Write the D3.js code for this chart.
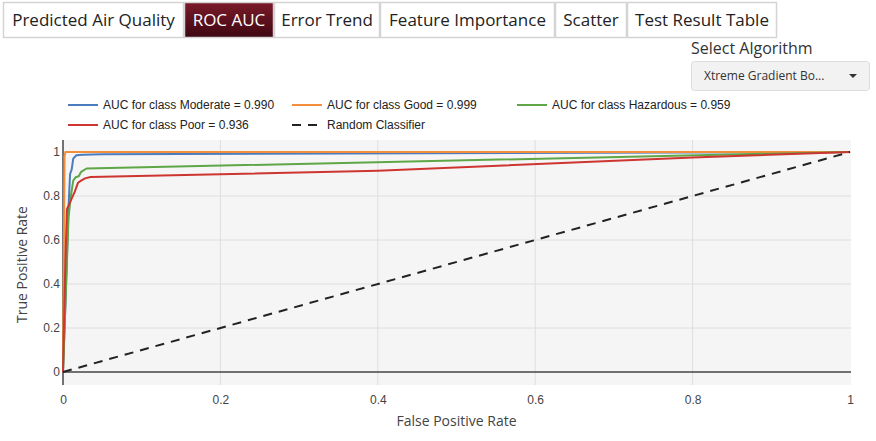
<!DOCTYPE html>
<html>
<head>
  <title>ROC AUC</title>
  <script src="https://d3js.org/d3.v7.min.js"></script>
  <style>
    body { margin: 0; background: #fff; }
    .tick text { font-family: Arial, "Liberation Sans", sans-serif; font-size: 12px; fill: #444; }
    .legend text { font-family: Arial, "Liberation Sans", sans-serif; font-size: 12px; fill: #222; }
    .tab text { font-family: "Open Sans", sans-serif; font-size: 17px; }
  </style>
</head>
<body>
<svg width="876" height="441"></svg>
<script>
  // tabs and dropdown
  const tabs = ["Predicted Air Quality", "ROC AUC", "Error Trend", "Feature Importance", "Scatter", "Test Result Table"];
  const tabWidths = [181, 90, 106, 175, 72, 150];
  const activeTab = "ROC AUC";
  const algorithm = "Xtreme Gradient Bo...";

  // ROC curves (FPR, TPR)
  const classes = ["Moderate", "Good", "Hazardous", "Poor"];
  const aucs = [0.990, 0.999, 0.959, 0.936];
  const colors = ["#4a7cbf", "#f28e3c", "#5ea646", "#cc3530"];
  const fpr = {
    Moderate:  [0, 0.003, 0.007, 0.009, 0.011, 0.013, 0.017, 0.025, 0.05, 1],
    Good:      [0, 0.001, 0.002, 0.003, 1],
    Hazardous: [0, 0.004, 0.007, 0.010, 0.013, 0.016, 0.020, 0.023, 0.030, 1],
    Poor:      [0, 0.003, 0.005, 0.010, 0.015, 0.019, 0.023, 0.028, 0.035, 0.4, 0.8, 1]
  };
  const tpr = {
    Moderate:  [0, 0.30, 0.75, 0.90, 0.92, 0.97, 0.985, 0.988, 0.99, 1],
    Good:      [0, 0.50, 0.98, 1.00, 1],
    Hazardous: [0, 0.40, 0.70, 0.80, 0.87, 0.885, 0.89, 0.91, 0.925, 1],
    Poor:      [0, 0.50, 0.74, 0.78, 0.82, 0.86, 0.87, 0.88, 0.886, 0.915, 0.975, 1]
  };
  const xTicks = [0, 0.2, 0.4, 0.6, 0.8, 1];
  const yTicks = [0, 0.2, 0.4, 0.6, 0.8, 1];

  const svg = d3.select("svg");

  // ---- tab bar ----
  let tx = 3;
  tabs.forEach((t, i) => {
    const g = svg.append("g").attr("class", "tab");
    const active = t === activeTab;
    g.append("rect")
      .attr("x", tx + 0.5).attr("y", 2.5)
      .attr("width", tabWidths[i] - 1).attr("height", 35)
      .attr("fill", active ? "url(#activeGrad)" : "#fff")
      .attr("stroke", "#d4d4d4").attr("stroke-width", 1.5);
    g.append("text")
      .attr("x", tx + tabWidths[i] / 2).attr("y", 26)
      .attr("text-anchor", "middle")
      .attr("fill", active ? "#fff" : "#222")
      .text(t)
      .each(function() {
        const w = this.getComputedTextLength();
        if (w > tabWidths[i] - 14) {
          d3.select(this).attr("textLength", tabWidths[i] - 14).attr("lengthAdjust", "spacingAndGlyphs");
        }
      });
    tx += tabWidths[i];
  });
  const defs = svg.append("defs");
  const grad = defs.append("linearGradient").attr("id", "activeGrad")
    .attr("x1", 0).attr("y1", 0).attr("x2", 0).attr("y2", 1);
  grad.append("stop").attr("offset", "0%").attr("stop-color", "#7b1a2a");
  grad.append("stop").attr("offset", "100%").attr("stop-color", "#3e0812");

  // ---- algorithm select ----
  svg.append("text")
    .attr("x", 691).attr("y", 54)
    .style("font-family", "'Open Sans', sans-serif").style("font-size", "16px")
    .attr("fill", "#333")
    .text("Select Algorithm");
  svg.append("rect")
    .attr("x", 691.5).attr("y", 61.5).attr("width", 178).attr("height", 29).attr("rx", 3)
    .attr("fill", "#f2f2f2").attr("stroke", "#dcdcdc");
  svg.append("text")
    .attr("x", 704).attr("y", 80)
    .style("font-family", "'Open Sans', sans-serif").style("font-size", "12px")
    .attr("fill", "#333")
    .text(algorithm);
  svg.append("path").attr("d", "M849,74 L857,74 L853,78 Z").attr("fill", "#333");

  // ---- plot ----
  const plot = {left: 63, right: 851, top: 140, bottom: 385};
  const x = d3.scaleLinear().domain([0, 1]).range([63, 850]);
  const y = d3.scaleLinear().domain([0, 1]).range([372, 152]);

  svg.append("rect")
    .attr("x", plot.left).attr("y", plot.top)
    .attr("width", plot.right - plot.left).attr("height", plot.bottom - plot.top)
    .attr("fill", "#f5f5f5");

  // grid
  svg.append("g").selectAll("line").data(yTicks.filter(d => d > 0)).join("line")
    .attr("x1", plot.left).attr("x2", plot.right)
    .attr("y1", d => y(d)).attr("y2", d => y(d))
    .attr("stroke", "#dedede");
  svg.append("g").selectAll("line").data(xTicks.filter(d => d > 0 && d < 1)).join("line")
    .attr("x1", d => x(d)).attr("x2", d => x(d))
    .attr("y1", plot.top).attr("y2", plot.bottom)
    .attr("stroke", "#dedede");

  // axes
  const xAxis = svg.append("g")
    .attr("transform", `translate(0,${plot.bottom})`)
    .call(d3.axisBottom(x).tickValues(xTicks).tickSize(0).tickPadding(10).tickFormat(d3.format("~g")));
  xAxis.select(".domain").remove();
  const yAxis = svg.append("g")
    .attr("transform", `translate(${plot.left},0)`)
    .call(d3.axisLeft(y).tickValues(yTicks).tickSize(0).tickPadding(3).tickFormat(d3.format("~g")));
  yAxis.select(".domain").remove();

  // zero lines
  svg.append("line").attr("x1", plot.left).attr("x2", plot.right)
    .attr("y1", y(0)).attr("y2", y(0)).attr("stroke", "#444").attr("stroke-width", 1.5);
  svg.append("line").attr("x1", x(0)).attr("x2", x(0))
    .attr("y1", plot.top).attr("y2", plot.bottom).attr("stroke", "#444").attr("stroke-width", 1.5);

  // curves
  const line = d3.line().x(d => x(d[0])).y(d => y(d[1]));
  classes.forEach((c, i) => {
    const pts = fpr[c].map((v, j) => [v, tpr[c][j]]);
    svg.append("path")
      .attr("d", line(pts))
      .attr("fill", "none")
      .attr("stroke", colors[i])
      .attr("stroke-width", 2)
      .attr("stroke-linejoin", "round");
  });
  svg.append("path")
    .attr("d", line([[0, 0], [1, 1]]))
    .attr("fill", "none")
    .attr("stroke", "#222")
    .attr("stroke-width", 2)
    .attr("stroke-dasharray", "9,7");

  // axis titles
  svg.append("text")
    .attr("x", (x(0) + x(1)) / 2).attr("y", 426)
    .attr("text-anchor", "middle")
    .style("font-family", "'Open Sans', sans-serif").style("font-size", "14px")
    .attr("fill", "#444")
    .text("False Positive Rate");
  svg.append("text")
    .attr("transform", `translate(27,${(plot.top + plot.bottom) / 2 + 2}) rotate(-90)`)
    .attr("text-anchor", "middle")
    .style("font-family", "'Open Sans', sans-serif").style("font-size", "14px")
    .attr("fill", "#444")
    .text("True Positive Rate");

  // legend
  const legendItems = [
    {label: `AUC for class Moderate = ${aucs[0].toFixed(3)}`, color: colors[0], dash: null},
    {label: `AUC for class Good = ${aucs[1].toFixed(3)}`, color: colors[1], dash: null},
    {label: `AUC for class Hazardous = ${aucs[2].toFixed(3)}`, color: colors[2], dash: null},
    {label: `AUC for class Poor = ${aucs[3].toFixed(3)}`, color: colors[3], dash: null},
    {label: "Random Classifier", color: "#222", dash: "9,7"}
  ];
  const legendCols = [68, 292, 517];
  const legend = svg.append("g").attr("class", "legend");
  legendItems.forEach((d, i) => {
    const lx = legendCols[i % 3];
    const ly = 105 + Math.floor(i / 3) * 20;
    legend.append("line")
      .attr("x1", lx).attr("x2", lx + 30).attr("y1", ly).attr("y2", ly)
      .attr("stroke", d.color).attr("stroke-width", 2)
      .attr("stroke-dasharray", d.dash);
    legend.append("text")
      .attr("x", lx + 35).attr("y", ly + 4)
      .text(d.label);
  });
</script>
</body>
</html>
